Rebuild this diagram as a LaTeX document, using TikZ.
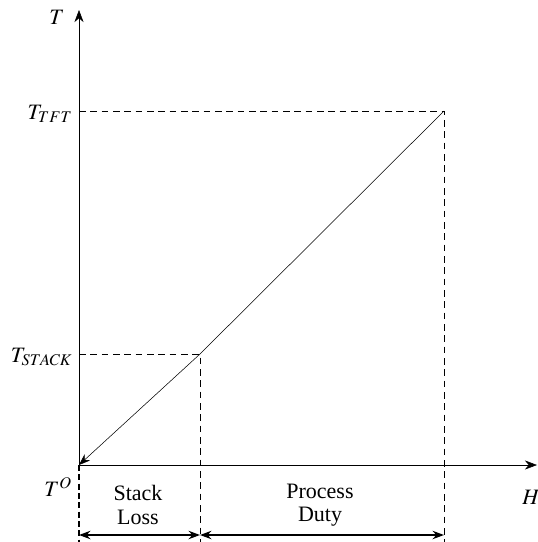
\documentclass[tikz,border=0pt]{standalone}
\usepackage{mathptmx}
\usepackage{fontspec}
\setmainfont{Liberation Serif}
\usetikzlibrary{arrows.meta}
\tikzset{
  axis/.style={-{Stealth[length=3.2mm,width=2.4mm]}, thin},
  guide/.style={dash pattern=on 5pt off 3.5pt, semithick},
  span/.style={{Stealth[length=3mm,width=2.2mm]}-{Stealth[length=3mm,width=2.2mm]}, very thick},
  lbl/.style={font=\fontsize{16.5}{17.5}\selectfont, inner sep=1pt, align=center}
}
\begin{document}
\begin{tikzpicture}[x=0.75pt,y=-0.75pt]
  \useasboundingbox (0,0) rectangle (538,542);
  % reference points
  \coordinate (O) at (79,465);
  \coordinate (ytop) at (79,10);
  \coordinate (xend) at (537,465);
  \coordinate (stack) at (200,354);
  \coordinate (tft) at (444,111);
  \coordinate (b0) at (79,535);
  \coordinate (b1) at (200,535);
  \coordinate (b2) at (444,535);
  % axes
  \draw[axis] (O) -- (ytop);
  \draw[axis] (O) -- (xend);
  % guides
  \draw[guide] (O |- 0,111) -- (tft) -- (444,542);
  \draw[guide] (O |- 0,354) -- (stack) -- (200,542);
  \draw[guide, thick, dash pattern=on 4.5pt off 2.5pt] (O) -- (79,542);
  % heat line
  \draw[-{Stealth[length=3mm,width=2.2mm]}] (tft) -- (stack) -- (O);
  % spans
  \draw[span] (b0) -- (b1);
  \draw[span] (b1) -- (b2);
  % labels
  \node[lbl] (lT) at (57,17) {$T$};
  \node[lbl, anchor=east] (lTFT) at (74,114) {$T_{TFT}$};
  \node[lbl, anchor=east] (lSTACK) at (74,357) {$T_{STACK}$};
  \node[lbl] (lTO) at (58,487) {$T^{O}$};
  \node[lbl] (lH) at (531,497) {$H$};
  \node[lbl] (lloss) at (138,505) {Stack\\Loss};
  \node[lbl] (lduty) at (320,505) {Process\\Duty};
\end{tikzpicture}
\end{document}
